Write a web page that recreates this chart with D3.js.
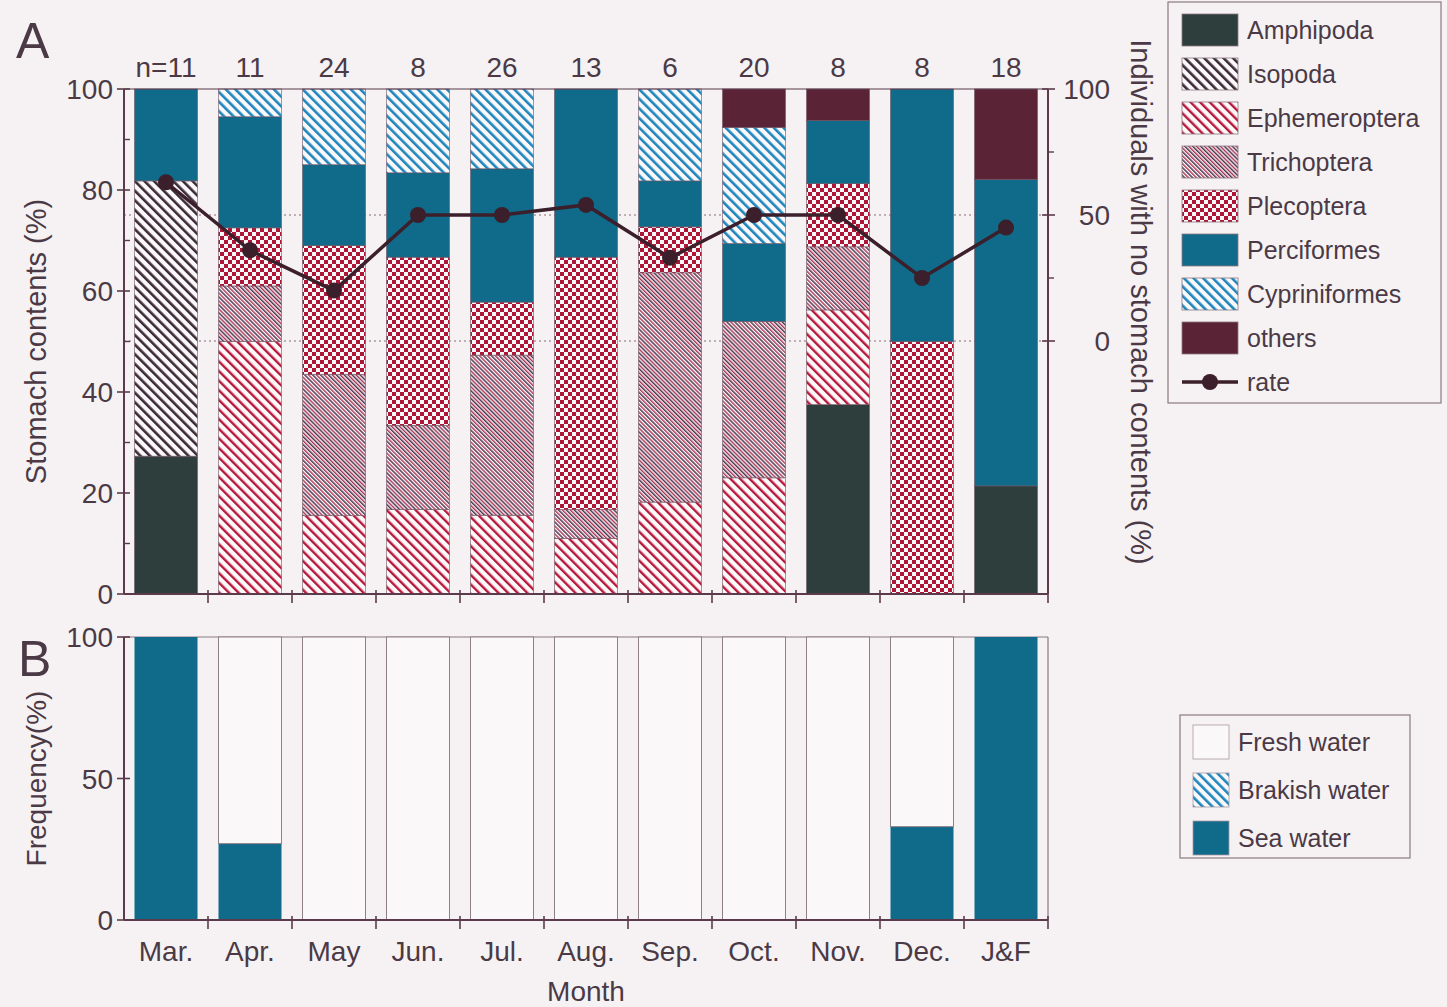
<!DOCTYPE html>
<html>
<head>
<meta charset="utf-8">
<script src="https://cdn.jsdelivr.net/npm/d3@7"></script>
<style>
  html, body { margin: 0; padding: 0; background: #f6f2f4; }
  svg { display: block; }
  text { font-family: "Liberation Sans", Arial, sans-serif; fill: #4b3a45; }
</style>
</head>
<body>
<script>
// Sampling months and sample sizes
const months = ["Mar.", "Apr.", "May", "Jun.", "Jul.", "Aug.", "Sep.", "Oct.", "Nov.", "Dec.", "J&F"];
const sampleSizes = ["n=11", "11", "24", "8", "26", "13", "6", "20", "8", "8", "18"];

// Stomach contents by prey group (% per month)
const preyGroups = ["Amphipoda", "Isopoda", "Ephemeroptera", "Trichoptera", "Plecoptera", "Perciformes", "Cypriniformes", "others"];
const amphipoda     = [27.3, 0,    0,    0,    0,    0,    0,    0,    37.5,  0,  21.4];
const isopoda       = [54.5, 0,    0,    0,    0,    0,    0,    0,    0,     0,  0];
const ephemeroptera = [0,    50,   15.5, 16.7, 15.6, 11,   18.2, 23,   18.75, 0,  0];
const trichoptera   = [0,    11,   28,   16.7, 31.7, 5.7,  45.4, 31,   12.5,  0,  0];
const plecoptera    = [0,    11.5, 25.5, 33.3, 10.5, 50,   9.1,  0,    12.5,  50, 0];
const perciformes   = [18.2, 22,   16,   16.7, 26.4, 33.3, 9.1,  15.4, 12.5,  50, 60.7];
const cypriniformes = [0,    5.5,  15,   16.6, 15.8, 0,    18.2, 23,   0,     0,  0];
const others        = [0,    0,    0,    0,    0,    0,    0,    7.6,  6.25,  0,  17.9];

// Individuals with no stomach contents (%)
const emptyRate = [63, 36, 20, 50, 50, 54, 33, 50, 50, 25, 45];

// Habitat of prey (frequency %)
const habitats = ["Fresh water", "Brakish water", "Sea water"];
const seaWater      = [100, 27, 0, 0, 0, 0, 0, 0, 0, 33, 100];
const brackishWater = [0,   0,  0, 0, 0, 0, 0, 0, 0, 0,  0];
const freshWater    = [0,   73, 100, 100, 100, 100, 100, 100, 100, 67, 0];

const leftTicks = [0, 20, 40, 60, 80, 100];
const rightTicks = [0, 50, 100];
const freqTicks = [0, 50, 100];

const W = 1447, H = 1007;
const axisColor = "#5b3b4b";
const paper = "#fbf8fa";

const svg = d3.select("body").append("svg").attr("width", W).attr("height", H);
svg.append("rect").attr("width", W).attr("height", H).attr("fill", "#f6f2f4");

// ---------- fill patterns ----------
const defs = svg.append("defs");
function stripes(id, spacing, lines) {
  const p = defs.append("pattern").attr("id", id).attr("patternUnits", "userSpaceOnUse")
    .attr("width", spacing).attr("height", spacing).attr("patternTransform", "rotate(-45)");
  p.append("rect").attr("width", spacing).attr("height", spacing).attr("fill", paper);
  lines.forEach(l => p.append("rect").attr("x", l.x).attr("y", 0).attr("width", l.w)
    .attr("height", spacing).attr("fill", l.c));
}
stripes("pat-isopoda", 6.8, [{x: 0, w: 2.6, c: "#3b2a35"}]);
stripes("pat-ephem", 6.8, [{x: 0, w: 2.4, c: "#b5183a"}]);
stripes("pat-cypri", 6.8, [{x: 0, w: 2.6, c: "#1f86bd"}]);
stripes("pat-tricho", 5.6, [{x: 0, w: 1.5, c: "#4e3550"}, {x: 2.8, w: 1.4, c: "#a8304e"}]);
(function () {
  const p = defs.append("pattern").attr("id", "pat-pleco").attr("patternUnits", "userSpaceOnUse")
    .attr("width", 8).attr("height", 8);
  p.append("rect").attr("width", 8).attr("height", 8).attr("fill", paper);
  p.append("rect").attr("x", 0).attr("y", 0).attr("width", 4).attr("height", 4).attr("fill", "#ad1637");
  p.append("rect").attr("x", 4).attr("y", 4).attr("width", 4).attr("height", 4).attr("fill", "#ad1637");
})();

const preyFill = {
  "Amphipoda": "#2d3e3d",
  "Isopoda": "url(#pat-isopoda)",
  "Ephemeroptera": "url(#pat-ephem)",
  "Trichoptera": "url(#pat-tricho)",
  "Plecoptera": "url(#pat-pleco)",
  "Perciformes": "#106a8a",
  "Cypriniformes": "url(#pat-cypri)",
  "others": "#5a2436"
};
const habitatFill = { "Fresh water": paper, "Brakish water": "url(#pat-cypri)", "Sea water": "#106a8a" };

// ---------- scales ----------
const x = d3.scaleBand().domain(months).range([124, 1048]).paddingInner(0.25).paddingOuter(0.125);
const yA = d3.scaleLinear().domain([0, 100]).range([594, 89]);
const yRate = d3.scaleLinear().domain([0, 100]).range([341, 89]);
const yB = d3.scaleLinear().domain([0, 100]).range([920, 637]);
const [x0, x1] = x.range();

// ---------- Panel A ----------
const gA = svg.append("g");

// dotted reference lines at rate 0 and 50
gA.selectAll("line.ref").data([0, 50]).join("line")
  .attr("x1", x0).attr("x2", x1).attr("y1", d => yRate(d)).attr("y2", d => yRate(d))
  .attr("stroke", "#8a6a7a").attr("stroke-width", 1).attr("stroke-dasharray", "2,3");

const preyTable = months.map((m, i) => ({
  month: m,
  "Amphipoda": amphipoda[i], "Isopoda": isopoda[i], "Ephemeroptera": ephemeroptera[i],
  "Trichoptera": trichoptera[i], "Plecoptera": plecoptera[i], "Perciformes": perciformes[i],
  "Cypriniformes": cypriniformes[i], "others": others[i]
}));
const preyStack = d3.stack().keys(preyGroups)(preyTable);

gA.selectAll("g.layer").data(preyStack).join("g")
  .attr("fill", d => preyFill[d.key])
  .selectAll("rect").data(d => d.filter(s => s[1] - s[0] > 0)).join("rect")
  .attr("x", d => x(d.data.month)).attr("width", x.bandwidth())
  .attr("y", d => yA(d[1])).attr("height", d => yA(d[0]) - yA(d[1]))
  .attr("stroke", "#6e5563").attr("stroke-width", 0.6);

// frame top line
gA.append("line").attr("x1", x0).attr("x2", x1).attr("y1", yA(100)).attr("y2", yA(100))
  .attr("stroke", axisColor).attr("stroke-width", 1.2);

// rate line
const rateLine = d3.line().x((d, i) => x(months[i]) + x.bandwidth() / 2).y(d => yRate(d));
gA.append("path").datum(emptyRate).attr("d", rateLine)
  .attr("fill", "none").attr("stroke", "#3b1f2a").attr("stroke-width", 3.5);
gA.selectAll("circle.rate").data(emptyRate).join("circle")
  .attr("cx", (d, i) => x(months[i]) + x.bandwidth() / 2).attr("cy", d => yRate(d))
  .attr("r", 8).attr("fill", "#3b1f2a");

// vertical axis with crossing major ticks and one-sided minor ticks
function vAxis(g, xPos, scale, majors, minors, side) {
  const [yb, yt] = scale.range();
  g.append("line").attr("x1", xPos).attr("x2", xPos).attr("y1", yb).attr("y2", yt)
    .attr("stroke", axisColor).attr("stroke-width", 2);
  majors.forEach(v => g.append("line").attr("x1", xPos - 7).attr("x2", xPos + 6)
    .attr("y1", scale(v)).attr("y2", scale(v)).attr("stroke", axisColor).attr("stroke-width", 1.6));
  minors.forEach(v => g.append("line").attr("x1", xPos).attr("x2", xPos + side * 6)
    .attr("y1", scale(v)).attr("y2", scale(v)).attr("stroke", axisColor).attr("stroke-width", 1.4));
}
vAxis(gA, x0, yA, leftTicks, [10, 30, 50, 70, 90], 1);
gA.selectAll("text.ly").data(leftTicks).join("text")
  .attr("x", 113).attr("y", d => yA(d)).attr("dy", "0.36em").attr("text-anchor", "end")
  .attr("font-size", 28).text(d => d);

// right axis A (spans whole panel height, ticks over the rate range)
gA.append("line").attr("x1", x1).attr("x2", x1).attr("y1", yA(0)).attr("y2", yA(100))
  .attr("stroke", axisColor).attr("stroke-width", 2);
rightTicks.forEach(v => gA.append("line").attr("x1", x1 - 6).attr("x2", x1 + 7)
  .attr("y1", yRate(v)).attr("y2", yRate(v)).attr("stroke", axisColor).attr("stroke-width", 1.6));
[25, 75].forEach(v => gA.append("line").attr("x1", x1).attr("x2", x1 + 6)
  .attr("y1", yRate(v)).attr("y2", yRate(v)).attr("stroke", axisColor).attr("stroke-width", 1.4));
gA.selectAll("text.ry").data(rightTicks).join("text")
  .attr("x", 1110).attr("y", d => yRate(d)).attr("dy", "0.36em").attr("text-anchor", "end")
  .attr("font-size", 28).text(d => d);

// bottom axis with ticks at category boundaries
function hAxis(g, yPos) {
  g.append("line").attr("x1", x0).attr("x2", x1).attr("y1", yPos).attr("y2", yPos)
    .attr("stroke", axisColor).attr("stroke-width", 2);
  const bounds = months.map(m => x(m) - x.step() * x.paddingInner() / 2).slice(1).concat([x1]);
  bounds.forEach(b => g.append("line").attr("x1", b).attr("x2", b).attr("y1", yPos - 4).attr("y2", yPos + 9)
    .attr("stroke", axisColor).attr("stroke-width", 1.6));
}
hAxis(gA, yA(0));

// sample sizes
gA.selectAll("text.n").data(sampleSizes).join("text")
  .attr("x", (d, i) => x(months[i]) + x.bandwidth() / 2).attr("y", 77)
  .attr("text-anchor", "middle").attr("font-size", 28).text(d => d);

// axis titles A
svg.append("text").attr("transform", `translate(46,${yA(50)}) rotate(-90)`)
  .attr("text-anchor", "middle").attr("font-size", 29).text("Stomach contents (%)");
svg.append("text").attr("transform", `translate(1131,302) rotate(90)`)
  .attr("text-anchor", "middle").attr("font-size", 29).text("Individuals with no stomach contents (%)");
svg.append("text").attr("x", 16).attr("y", 58).attr("font-size", 50).text("A");

// ---------- Panel B ----------
const gB = svg.append("g");
const habTable = months.map((m, i) => ({
  month: m, "Sea water": seaWater[i], "Brakish water": brackishWater[i], "Fresh water": freshWater[i]
}));
const habStack = d3.stack().keys(["Sea water", "Brakish water", "Fresh water"])(habTable);

gB.append("line").attr("x1", x0).attr("x2", x1).attr("y1", yB(100)).attr("y2", yB(100))
  .attr("stroke", "#8a7880").attr("stroke-width", 1.2);
gB.append("line").attr("x1", x1).attr("x2", x1).attr("y1", yB(100)).attr("y2", yB(0))
  .attr("stroke", "#8a7880").attr("stroke-width", 1.2);

gB.selectAll("g.layer").data(habStack).join("g")
  .attr("fill", d => habitatFill[d.key])
  .attr("stroke", d => d.key === "Fresh water" ? "#8f7f88" : "none")
  .attr("stroke-width", 1)
  .selectAll("rect").data(d => d.filter(s => s[1] - s[0] > 0)).join("rect")
  .attr("x", d => x(d.data.month)).attr("width", x.bandwidth())
  .attr("y", d => yB(d[1])).attr("height", d => yB(d[0]) - yB(d[1]));

vAxis(gB, x0, yB, freqTicks, [], 1);
gB.selectAll("text.by").data(freqTicks).join("text")
  .attr("x", 113).attr("y", d => yB(d)).attr("dy", "0.36em").attr("text-anchor", "end")
  .attr("font-size", 28).text(d => d);
hAxis(gB, yB(0));

gB.selectAll("text.month").data(months).join("text")
  .attr("x", d => x(d) + x.bandwidth() / 2).attr("y", 961)
  .attr("text-anchor", "middle").attr("font-size", 28).text(d => d);
svg.append("text").attr("x", 586).attr("y", 1001).attr("text-anchor", "middle")
  .attr("font-size", 28).text("Month");
svg.append("text").attr("transform", `translate(46,${yB(50)}) rotate(-90)`)
  .attr("text-anchor", "middle").attr("font-size", 28).text("Frequency(%)");
svg.append("text").attr("x", 18).attr("y", 676).attr("font-size", 50).text("B");

// ---------- Legends ----------
const legA = svg.append("g");
legA.append("rect").attr("x", 1168).attr("y", 2).attr("width", 273).attr("height", 401)
  .attr("fill", "#f6f2f4").attr("stroke", "#8a7880").attr("stroke-width", 1.2);
const legItems = preyGroups.concat(["rate"]);
legItems.forEach((k, i) => {
  const cy = 30 + i * 44;
  if (k === "rate") {
    legA.append("line").attr("x1", 1182).attr("x2", 1238).attr("y1", cy).attr("y2", cy)
      .attr("stroke", "#3b1f2a").attr("stroke-width", 3.5);
    legA.append("circle").attr("cx", 1210).attr("cy", cy).attr("r", 8).attr("fill", "#3b1f2a");
  } else {
    legA.append("rect").attr("x", 1182).attr("y", cy - 16).attr("width", 56).attr("height", 32)
      .attr("fill", preyFill[k]).attr("stroke", "#8a7880").attr("stroke-width", 0.8);
  }
  legA.append("text").attr("x", 1247).attr("y", cy).attr("dy", "0.36em")
    .attr("font-size", 25).text(k);
});

const legB = svg.append("g");
legB.append("rect").attr("x", 1180).attr("y", 715).attr("width", 230).attr("height", 143)
  .attr("fill", "#f6f2f4").attr("stroke", "#8a7880").attr("stroke-width", 1.2);
habitats.forEach((k, i) => {
  const cy = 742 + i * 48;
  legB.append("rect").attr("x", 1193).attr("y", cy - 17).attr("width", 36).attr("height", 34)
    .attr("fill", habitatFill[k]).attr("stroke", "#a898a0").attr("stroke-width", 0.8);
  legB.append("text").attr("x", 1238).attr("y", cy).attr("dy", "0.36em")
    .attr("font-size", 25).text(k);
});
</script>
</body>
</html>
